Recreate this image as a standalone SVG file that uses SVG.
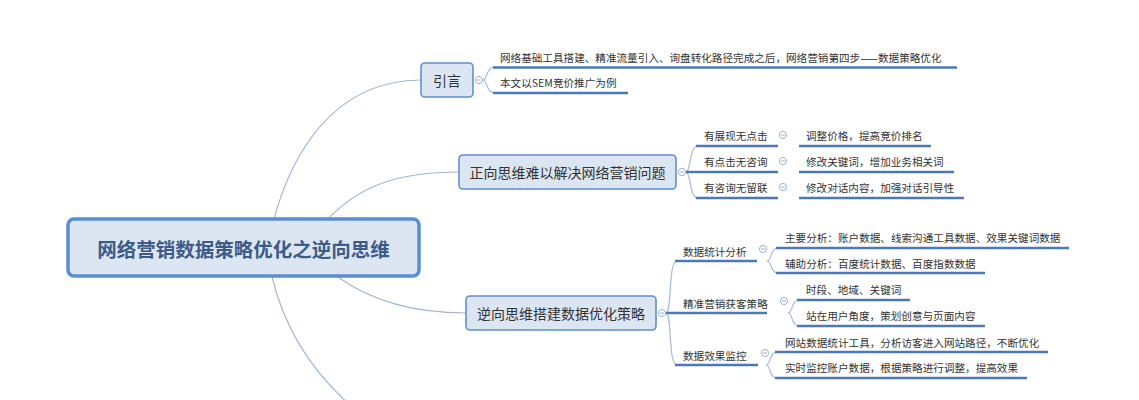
<svg xmlns="http://www.w3.org/2000/svg" width="1139" height="400" viewBox="0 0 1139 400">
<style>
.bg{fill:#ffffff}
.conn{fill:none;stroke:#a0b6d2;stroke-width:1.1}
.br{fill:none;stroke:#a7bad6;stroke-width:1.2}
.ul{fill:none;stroke:#4b79b8;stroke-width:2.6;stroke-linecap:butt}
.box{fill:#dce6f2;stroke:#5f8fcc;stroke-width:1.6}
.root{fill:#dce6f2;stroke:#5b8ed0;stroke-width:3.5}
.tg circle{fill:#ffffff;stroke:#9fb2cc;stroke-width:1}
.tg line{stroke:#9fb2cc;stroke-width:1}
text{font-family:"Microsoft YaHei","Noto Sans CJK SC","Noto Sans",sans-serif;fill:#333333;dominant-baseline:central}
.t{font-size:10.6px}
.bt{font-size:14px;text-anchor:middle}
.rt{font-size:19.5px;font-weight:bold;fill:#3c5b88;text-anchor:middle}
</style>
<defs>
<g id="tog" class="tg"><circle cx="0" cy="0" r="3.6"/><line x1="-2" y1="0" x2="2" y2="0"/></g>
</defs>
<rect class="bg" x="0" y="0" width="1139" height="400"/>
<g id="connectors">
<path class="conn" d="M274,219 C290,160 330,80 421,80"/>
<path class="conn" d="M328,219 C360,185 400,172 459,172"/>
<path class="conn" d="M338,277 C370,300 410,313 466,313"/>
<path class="conn" d="M272,277 C283,322 306,366 350,405"/>
<!-- 引言 children -->
<path class="br" d="M483,80 C487,80 486,67 495,67"/>
<path class="br" d="M483,80 C487,80 486,93 495,93"/>
<line class="ul" x1="493" y1="67.5" x2="957" y2="67.5"/>
<line class="ul" x1="493" y1="93" x2="628" y2="93"/>
<!-- 正向 children -->
<path class="br" d="M686,172 C691,172 689,146 698,146"/>
<path class="br" d="M686,172 C691,172 689,198 698,198"/>
<line class="ul" x1="696" y1="146" x2="778" y2="146"/>
<line class="ul" x1="686" y1="172" x2="778" y2="172"/>
<line class="ul" x1="696" y1="198" x2="778" y2="198"/>
<line class="ul" x1="799" y1="146" x2="931" y2="146"/>
<line class="ul" x1="799" y1="172" x2="954" y2="172"/>
<line class="ul" x1="799" y1="198" x2="964" y2="198"/>
<!-- 逆向 children -->
<path class="br" d="M666,313 C672,313 668,261 677,261"/>
<path class="br" d="M666,313 C672,313 668,365 677,365"/>
<line class="ul" x1="675" y1="261" x2="757" y2="261"/>
<line class="ul" x1="666" y1="313" x2="767" y2="313"/>
<line class="ul" x1="675" y1="365" x2="758" y2="365"/>
<!-- 数据统计分析 -->
<path class="br" d="M767,261 C772,261 770,248 778,248"/>
<path class="br" d="M767,261 C772,261 770,273 778,273"/>
<line class="ul" x1="776" y1="248" x2="1069" y2="248"/>
<line class="ul" x1="776" y1="273" x2="985" y2="273"/>
<!-- 精准营销获客策略 -->
<path class="br" d="M788,313 C793,313 791,300 799,300"/>
<path class="br" d="M788,313 C793,313 791,326 799,326"/>
<line class="ul" x1="797" y1="300" x2="910" y2="300"/>
<line class="ul" x1="797" y1="326" x2="985" y2="326"/>
<!-- 数据效果监控 -->
<path class="br" d="M766,365 C771,365 769,352 777,352"/>
<path class="br" d="M766,365 C771,365 769,378 777,378"/>
<line class="ul" x1="775" y1="352" x2="1048" y2="352"/>
<line class="ul" x1="775" y1="378" x2="1027" y2="378"/>
</g>
<g id="root">
<rect class="root" x="68" y="219" width="351" height="57" rx="6"/>
<text class="rt" x="243.5" y="248">网络营销数据策略优化之逆向思维</text>
</g>
<g id="n-yinyan">
<rect class="box" x="421" y="63" width="52" height="34" rx="4"/>
<text class="bt" x="447" y="80">引言</text>
<use href="#tog" x="479" y="80"/>
</g>
<g id="n-yinyan-1"><text class="t" x="500" y="57">网络基础工具搭建、精准流量引入、询盘转化路径完成之后，网络营销第四步——数据策略优化</text></g>
<g id="n-yinyan-2"><text class="t" x="500" y="82">本文以SEM竞价推广为例</text></g>
<g id="n-zhengxiang">
<rect class="box" x="459" y="155" width="217" height="34" rx="4"/>
<text class="bt" x="567.5" y="172">正向思维难以解决网络营销问题</text>
<use href="#tog" x="682" y="172"/>
</g>
<g id="n-z1"><text class="t" x="704" y="135">有展现无点击</text><use href="#tog" x="783" y="135"/></g>
<g id="n-z2"><text class="t" x="704" y="161">有点击无咨询</text><use href="#tog" x="783" y="161"/></g>
<g id="n-z3"><text class="t" x="704" y="187">有咨询无留联</text><use href="#tog" x="783" y="187"/></g>
<g id="n-z1a"><text class="t" x="806" y="135">调整价格，提高竞价排名</text></g>
<g id="n-z2a"><text class="t" x="806" y="161">修改关键词，增加业务相关词</text></g>
<g id="n-z3a"><text class="t" x="806" y="187">修改对话内容，加强对话引导性</text></g>
<g id="n-nixiang">
<rect class="box" x="466" y="296" width="190" height="34" rx="4"/>
<text class="bt" x="561" y="313">逆向思维搭建数据优化策略</text>
<use href="#tog" x="662" y="313"/>
</g>
<g id="n-n1"><text class="t" x="683" y="251">数据统计分析</text><use href="#tog" x="763" y="249"/></g>
<g id="n-n2"><text class="t" x="683" y="303">精准营销获客策略</text><use href="#tog" x="784" y="301"/></g>
<g id="n-n3"><text class="t" x="683" y="355">数据效果监控</text><use href="#tog" x="765" y="353"/></g>
<g id="n-n1a"><text class="t" x="785" y="237">主要分析：账户数据、线索沟通工具数据、效果关键词数据</text></g>
<g id="n-n1b"><text class="t" x="785" y="263">辅助分析：百度统计数据、百度指数数据</text></g>
<g id="n-n2a"><text class="t" x="806" y="289">时段、地域、关键词</text></g>
<g id="n-n2b"><text class="t" x="806" y="315">站在用户角度，策划创意与页面内容</text></g>
<g id="n-n3a"><text class="t" x="785" y="342">网站数据统计工具，分析访客进入网站路径，不断优化</text></g>
<g id="n-n3b"><text class="t" x="785" y="367">实时监控账户数据，根据策略进行调整，提高效果</text></g>
</svg>
